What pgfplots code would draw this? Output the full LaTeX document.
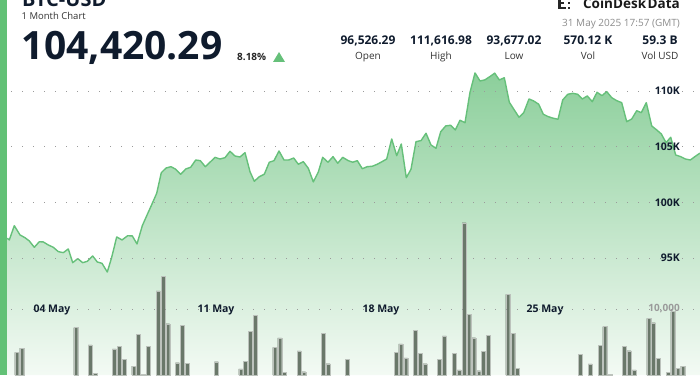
\documentclass[border=0pt]{standalone}
\usepackage{pgfplots}
\usepackage{pgfplotstable}
\pgfplotsset{compat=1.18}
\usepackage{fontspec}
\setmainfont{Open Sans}
\definecolor{navy}{HTML}{0F1B2D}
\definecolor{lgreen}{HTML}{66C07A}
\definecolor{sidebar}{HTML}{62C176}
\definecolor{barg}{HTML}{6A786A}
\definecolor{gridc}{HTML}{9A9A9A}
\definecolor{ftop}{HTML}{8CCF9B}
\definecolor{fbot}{HTML}{F3FAF4}
\newcommand{\tenk}{10,000}

\pgfplotstableread{
x y
7.3 96.77
9.3 96.62
14.3 97.90
20 97.07
25 96.82
29.3 96.53
34.3 95.96
39.3 96.46
43.3 96.44
48.3 96.17
53.3 95.96
58.3 95.57
63.3 95.48
68.3 95.81
72.7 94.58
77.7 94.94
82.7 94.58
87.3 94.70
92.7 95.18
97.3 94.64
102 94.52
107.3 93.74
111.7 95.06
116.7 96.89
122 96.62
127.7 97.00
132.3 96.98
137 96.26
142.3 97.90
147.3 98.91
152 99.85
156.7 100.81
161.3 102.66
166 103.08
171 103.20
175.7 102.97
180.7 102.52
185.7 102.99
190.7 103.15
195.7 103.80
200.3 103.74
205.3 103.20
210 103.60
215 104.04
220 103.89
225 104.01
230 104.58
235 104.16
240 104.07
245 104.46
250 102.75
254.3 101.89
259.3 102.30
264.3 102.52
269.3 103.60
274 103.74
279 104.61
284 103.80
288.7 103.80
293.7 103.98
298.3 103.42
303.3 103.65
308.3 103.06
313.3 101.83
318.3 102.72
322.7 104.04
328 103.60
333 104.10
337.7 103.51
342.7 104.04
348.3 103.74
352.7 103.60
357.3 103.74
362.3 103.02
367.3 103.20
372.3 103.24
377.3 103.42
382 103.65
386.7 103.89
391.7 105.69
396.7 104.19
401.3 105.24
406.3 102.21
411 102.97
416 105.45
421 105.54
426 106.20
431 105.15
436 104.85
440.7 106.34
445.7 106.86
450.7 106.92
455.3 106.50
460 107.37
465 107.15
470 109.88
475 111.62
480 110.90
484.7 110.99
489.7 111.28
494.7 111.60
499.3 110.99
504.3 111.19
509.3 108.99
514.3 108.29
519 107.64
523.7 108.05
529 109.28
533.7 109.10
538.7 108.81
543.3 107.91
548.3 107.69
553.3 107.55
558 107.46
562.7 109.19
567.7 109.70
572.7 109.79
577.7 109.70
582.3 109.28
587.3 109.55
592.3 109.04
597 109.88
602 109.58
606.7 109.94
611.7 109.40
616.7 109.13
621.7 108.95
626.7 107.24
631.7 107.48
636.7 108.23
641.3 108.05
646.3 108.95
651.7 106.86
656.7 106.50
661.3 106.14
666 105.36
670.7 105.84
675.7 104.25
680.7 104.10
685.3 103.89
690.3 103.80
695.3 104.13
700 104.42
}\pricetable

\pgfplotstableread{
x v
16.7 3440
21.7 4090
75.7 7170
90 4550
95 260
114.3 3940
119 4350
124 2380
133.7 1360
138.3 6110
143.3 150
148 4290
158 12730
163 15000
167.7 7770
177.3 1860
182.3 7530
187 1770
216.3 2010
240.7 910
245.3 2120
250.3 6620
255.3 9040
274.7 4200
279.7 5610
284.3 450
299 3640
303.7 500
323 6320
328 1710
347.3 2420
396 3440
400.7 4700
405.7 2580
415.3 6770
420 3330
425 1710
439.3 2380
444.3 5910
454 3290
459 760
464 23070
468.7 9240
473.7 5650
478.7 650
483.3 3590
488.3 6010
507.7 12230
512.7 6320
517.3 1060
580.3 3140
590 1670
600 4500
604.7 7320
609.7 150
624 4350
629 3680
634 760
648.7 8590
653.3 7920
658.3 2530
668 450
672.7 9620
677.7 1020
682.7 1360
}\voltable

\begin{document}
\begin{tikzpicture}
\path[use as bounding box] (0,0) rectangle (700pt,375pt);
\begin{axis}[
  at={(0pt,0pt)}, anchor=south west,
  width=700pt, height=375pt, scale only axis,
  xmin=0, xmax=700, ymin=84.49, ymax=118.17,
  axis line style={draw=none}, tick style={draw=none},
  ytick={95,100,105,110}, yticklabels={95K,100K,105K,110K},
  yticklabel pos=right,
  yticklabel style={anchor=east, xshift=-20pt, inner sep=0pt,
    font=\fontsize{10.5}{12}\selectfont\bfseries, text=navy},
  xtick={52,216,381,545}, xticklabels={04 May,11 May,18 May,25 May},
  xticklabel style={anchor=center, yshift=65pt, inner sep=0pt,
    font=\fontsize{10.5}{12}\selectfont\bfseries, text=navy},
  ymajorgrids,
  grid style={gridc, line width=0.9pt, dash pattern=on 0.9pt off 10.1pt},
  axis on top,
  clip=true,
]
\addplot[draw=none, top color=ftop, bottom color=fbot] table[x=x,y=y] {\pricetable} \closedcycle;
\addplot[draw=lgreen, line width=1.4pt, line join=round, no marks] table[x=x,y=y] {\pricetable};
\end{axis}
\begin{axis}[
  at={(0pt,0pt)}, anchor=south west,
  width=700pt, height=375pt, scale only axis,
  xmin=0, xmax=700, ymin=0, ymax=56818,
  axis line style={draw=none}, tick style={draw=none},
  xtick=\empty,
  ytick={10000}, yticklabels={\tenk},
  yticklabel pos=right,
  yticklabel style={anchor=east, xshift=-20pt, inner sep=0pt,
    font=\fontsize{10}{12}\selectfont\bfseries, text=gridc},
  ymajorgrids,
  grid style={gridc, line width=0.9pt, dash pattern=on 0.9pt off 10.1pt},
  axis on top,
]
\addplot[ybar, bar width=4pt, fill=barg, draw=barg!45!white, line width=0.4pt] table[x=x,y=v] {\voltable};
\end{axis}
% left accent bar
\fill[sidebar] (0pt,0pt) rectangle (7pt,375pt);
% titles
\node[anchor=base west, inner sep=0pt, text=navy] at (22pt,368.3pt) {\fontsize{20}{20}\selectfont\bfseries BTC-USD};
\node[anchor=base west, inner sep=0pt, text=black!80] at (21.5pt,355.7pt) {\fontsize{9.5}{11}\selectfont 1 Month Chart};
\node[anchor=base west, inner sep=0pt, text=navy] at (21.7pt,315pt) {\fontsize{39}{40}\selectfont\bfseries 104,420.29};
\node[anchor=base west, inner sep=0pt, text=black!85] at (237pt,314pt) {\fontsize{10}{12}\selectfont\bfseries 8.18\%};
\fill[lgreen] (273pt,313pt) -- (285pt,313pt) -- (279pt,323pt) -- cycle;
% stats
\foreach \cx/\val/\lab in {368/{96,526.29}/Open, 441/{111,616.98}/High, 514/{93,677.02}/Low, 588/{570.12 K}/Vol, 660/{59.3 B}/Vol USD}{
  \node[anchor=base, inner sep=0pt, text=navy] at (\cx pt,330pt) {\fontsize{12}{14}\selectfont\bfseries \val};
  \node[anchor=base, inner sep=0pt, text=black!80] at (\cx pt,315pt) {\fontsize{10}{12}\selectfont \lab};
}
% logo
\node[anchor=base east, inner sep=0pt, text=black!90] at (680pt,366pt) {\fontsize{13.5}{14}\selectfont\bfseries CoinDesk\hspace{1.5pt}Data};
\fill[black!85] (558pt,365.5pt) rectangle (561pt,375pt);
\fill[black!85] (558pt,365.5pt) rectangle (566pt,368pt);
\fill[black!85] (561pt,370.5pt) rectangle (564pt,372.5pt);
\fill[black!85] (568pt,370.5pt) rectangle (570pt,372.5pt);
\fill[black!85] (568pt,366pt) rectangle (570pt,368pt);
\node[anchor=base east, inner sep=0pt, text=black!45] at (680pt,348.3pt) {\fontsize{10}{12}\selectfont 31 May 2025 17:57 (GMT)};
\end{tikzpicture}
\end{document}
